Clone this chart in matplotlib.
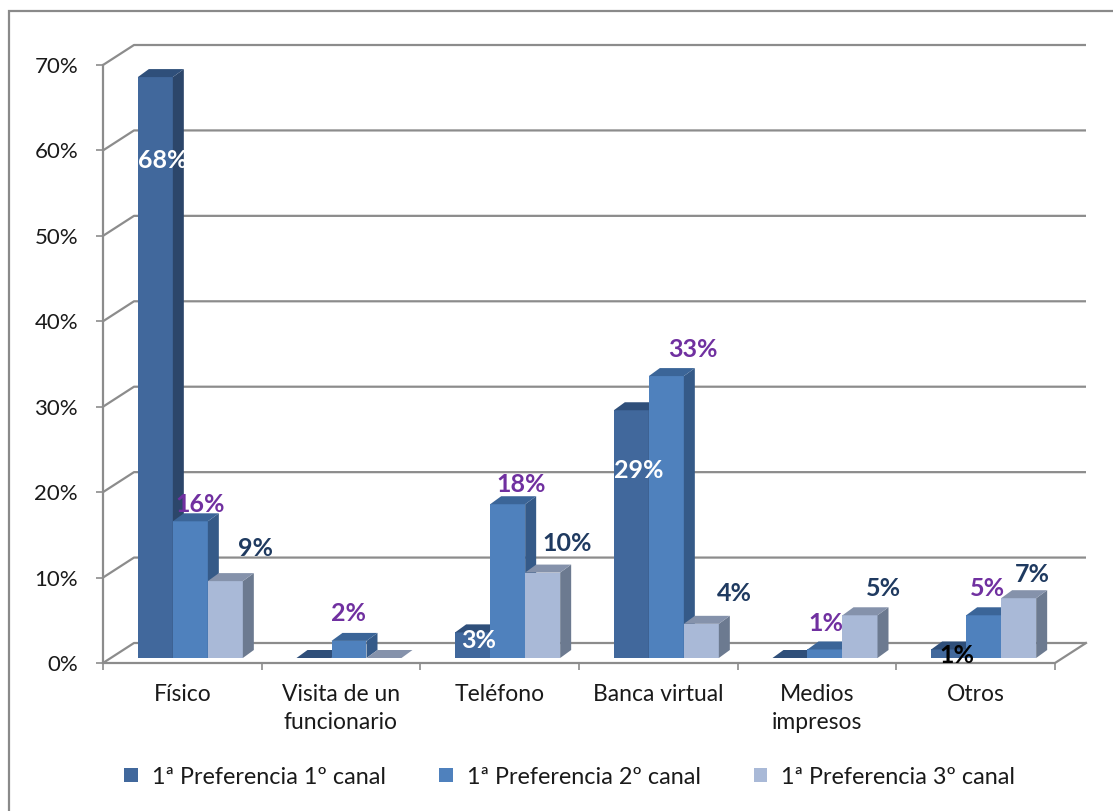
import matplotlib
matplotlib.use("Agg")
import matplotlib.pyplot as plt
from matplotlib.patches import Polygon, Rectangle

# ---- data ----
categories = ["Físico", "Visita de un\nfuncionario", "Teléfono", "Banca virtual",
              "Medios\nimpresos", "Otros"]
series_names = ["1ª Preferencia 1º canal", "1ª Preferencia 2º canal",
                "1ª Preferencia 3º canal"]
canal_1 = [0.68, 0.00, 0.03, 0.29, 0.00, 0.01]
canal_2 = [0.16, 0.02, 0.18, 0.33, 0.01, 0.05]
canal_3 = [0.09, 0.00, 0.10, 0.04, 0.05, 0.07]
y_ticks = [0.0, 0.1, 0.2, 0.3, 0.4, 0.5, 0.6, 0.7]

series = [canal_1, canal_2, canal_3]

# ---- styling ----
plt.rcParams["font.family"] = ["Lato", "DejaVu Sans"]
front_cols = ["#41689C", "#4F81BD", "#A9B9D7"]
side_cols = ["#2C466A", "#355A88", "#6C7A90"]
top_cols = ["#2F4F7A", "#3B6598", "#8592AB"]
label_cols = [["white", "white", "white", "white", "white", "black"],
              ["#7030A0"] * 6,
              ["#1F3A60"] * 6]
# label offsets (pixels) relative to the centre of each bar top
label_off = [
    [(7, -83), None, (6, -8), (7, -60), None, (8, -6)],
    [(10, 17), (0, 27), (14, 20), (27, 27), (1, 26), (4, 27)],
    [(30, 33), None, (25, 29), (33, 30), (23, 27), (14, 24)],
]
grid_col = "#8C8C8C"
text_col = "#1A1A1A"

W_PX, H_PX = 1113, 811
fig = plt.figure(figsize=(W_PX / 100, H_PX / 100), dpi=100)
fig.patch.set_facecolor("white")

# front plane of the plot: x 103..1055 px, y 663..65 px
x0p, x1p, y0p, y1p = 103, 1055, 663, 65
ax = fig.add_axes([x0p / W_PX, 1 - y0p / H_PX, (x1p - x0p) / W_PX, (y0p - y1p) / H_PX])
n = len(categories)
ymax = y_ticks[-1]
ax.set_xlim(0, n)
ax.set_ylim(0, ymax)

sx = n / (x1p - x0p)        # data units per pixel (x)
sy = ymax / (y0p - y1p)     # data units per pixel (y)

# depth offsets
wall_dx, wall_dy = 31 * sx, 20 * sy      # back wall
bar_dx, bar_dy = 8 * sx, 5 * sy          # bar front relative to front plane
dep_dx, dep_dy = 11 * sx, 8 * sy         # bar depth

# outer chart frame
fig.add_artist(Rectangle((9 / W_PX, -0.05), 1.2, 1 - 11 / H_PX + 0.05,
                         transform=fig.transFigure, fill=False,
                         edgecolor="#8A8A8A", lw=1.6))

# back wall gridlines with floor / wall connectors
for v in y_ticks:
    ax.plot([0, wall_dx, n + wall_dx], [v, v + wall_dy, v + wall_dy],
            color=grid_col, lw=1.6, clip_on=False, zorder=1, solid_capstyle="butt")
# floor front edge and right edge, value axis line
ax.plot([0, n, n + wall_dx], [0, 0, wall_dy], color=grid_col, lw=1.6,
        clip_on=False, zorder=1)
ax.plot([0, 0], [0, ymax], color=grid_col, lw=1.6, clip_on=False, zorder=1)

# bars
bar_w = 35 * sx
gap = (1 - 3 * bar_w) / 2
for i in range(n):
    for j, vals in enumerate(series):
        v = vals[i]
        xl = i + gap + j * bar_w + bar_dx
        xr = xl + bar_w
        yb = bar_dy
        yt = bar_dy + v
        z = 3 + i * 3 + j
        front = Polygon([(xl, yb), (xr, yb), (xr, yt), (xl, yt)], closed=True,
                        facecolor=front_cols[j], edgecolor="none", zorder=z, clip_on=False)
        side = Polygon([(xr, yb), (xr + dep_dx, yb + dep_dy), (xr + dep_dx, yt + dep_dy),
                        (xr, yt)], closed=True, facecolor=side_cols[j], edgecolor="none",
                       zorder=z, clip_on=False)
        top = Polygon([(xl, yt), (xr, yt), (xr + dep_dx, yt + dep_dy), (xl + dep_dx, yt + dep_dy)],
                      closed=True, facecolor=top_cols[j], edgecolor="none",
                      zorder=z, clip_on=False)
        for p in (front, side, top):
            ax.add_patch(p)
        off = label_off[j][i]
        if off is not None:
            ax.annotate(f"{round(v * 100):.0f}%", xy=((xl + xr) / 2, yt),
                        xytext=off, textcoords="offset pixels",
                        ha="center", va="center", fontsize=18, fontweight="bold",
                        color=label_cols[j][i], zorder=60, annotation_clip=False)

# axes, ticks, labels
for s in ("top", "right", "left", "bottom"):
    ax.spines[s].set_visible(False)
ax.set_facecolor("none")
ax.set_yticks(y_ticks)
ax.set_yticklabels([f"{round(t * 100)}%" for t in y_ticks])
ax.tick_params(axis="y", direction="out", length=5, width=1.2, color=grid_col,
               labelsize=16, labelcolor=text_col, pad=13)
ax.set_xticks(range(n + 1))
ax.set_xticklabels([])
ax.set_xticks([i + 0.5 for i in range(n)], minor=True)
ax.set_xticklabels(categories, minor=True, fontsize=16.5, color=text_col,
                   linespacing=1.42)
ax.tick_params(axis="x", which="major", direction="out", length=5, width=1.2,
               color=grid_col)
ax.tick_params(axis="x", which="minor", length=0, pad=15)

# legend
handles = [Rectangle((0, 0), 1, 1, facecolor=c, edgecolor="none") for c in front_cols]
fig.legend(handles, series_names, loc="center", bbox_to_anchor=(0.512, 1 - 777 / H_PX),
           ncol=3, frameon=False, fontsize=16.8, handlelength=0.57, handleheight=0.57,
           handletextpad=0.6, columnspacing=2.3, labelcolor=text_col)

fig.savefig("out.png", dpi=100, facecolor="white")
